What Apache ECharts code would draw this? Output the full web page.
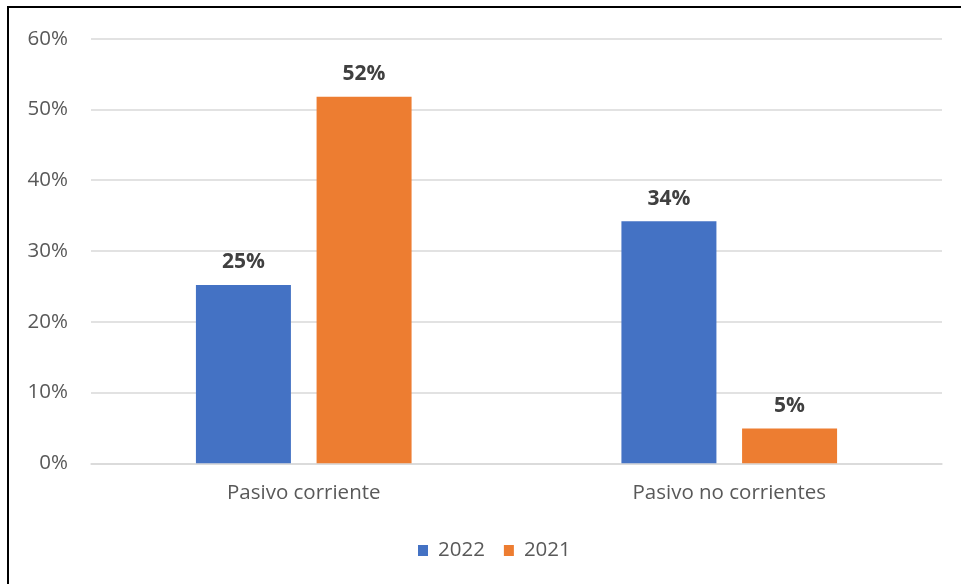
<!DOCTYPE html>
<html>
<head>
<meta charset="utf-8">
<script src="https://cdn.jsdelivr.net/npm/echarts@6/dist/echarts.min.js"></script>
<style>html,body{margin:0;padding:0;background:#fff}#c{width:961px;height:584px}</style>
</head>
<body>
<div id="c"></div>
<script>
var categories = ['Pasivo corriente', 'Pasivo no corrientes'];
var seriesNames = ['2022', '2021'];
var values2022 = [25.2, 34.2];
var values2021 = [51.8, 4.9];
var yTicks = [0, 10, 20, 30, 40, 50, 60];

var chart = echarts.init(document.getElementById('c'));
var font = '"Open Sans", "Noto Sans", sans-serif';
function labelCfg() {
  return {
    show: true, position: 'top', distance: 12,
    formatter: function (p) { return Math.round(p.value) + '%'; },
    fontSize: 21, fontWeight: 'bold', color: '#404040', fontFamily: font
  };
}
chart.setOption({
  animation: false,
  graphic: [{
    type: 'polyline',
    shape: { points: [[8, 600], [8, 7], [961, 7]] },
    style: { stroke: '#000', lineWidth: 2, fill: null },
    z: 100
  }],
  grid: { left: 91, right: 19, top: 38.7, bottom: 120.7, containLabel: false },
  legend: {
    data: seriesNames, top: 535, left: 413, itemWidth: 10, itemHeight: 11, itemGap: 19,
    icon: 'rect',
    textStyle: { fontSize: 20.5, color: '#595959', fontFamily: font, padding: [0, 0, 0, 5] }
  },
  xAxis: {
    type: 'category', data: categories,
    axisLine: { show: true, lineStyle: { color: '#d9d9d9', width: 1.5 } },
    axisTick: { show: false },
    axisLabel: { fontSize: 20.5, color: '#595959', fontFamily: font, margin: 19 }
  },
  yAxis: {
    type: 'value', min: yTicks[0], max: yTicks[yTicks.length - 1], interval: 10,
    axisLine: { show: false }, axisTick: { show: false },
    splitLine: { lineStyle: { color: '#d9d9d9', width: 1.5 } },
    axisLabel: { formatter: '{value}%', fontSize: 20.5, color: '#595959', fontFamily: font, margin: 23 }
  },
  series: [
    { name: seriesNames[0], type: 'bar', data: values2022, barWidth: 95, barGap: '27%',
      itemStyle: { color: '#4472C4' }, label: labelCfg() },
    { name: seriesNames[1], type: 'bar', data: values2021, barWidth: 95,
      itemStyle: { color: '#ED7D31' }, label: labelCfg() }
  ]
});
</script>
</body>
</html>
